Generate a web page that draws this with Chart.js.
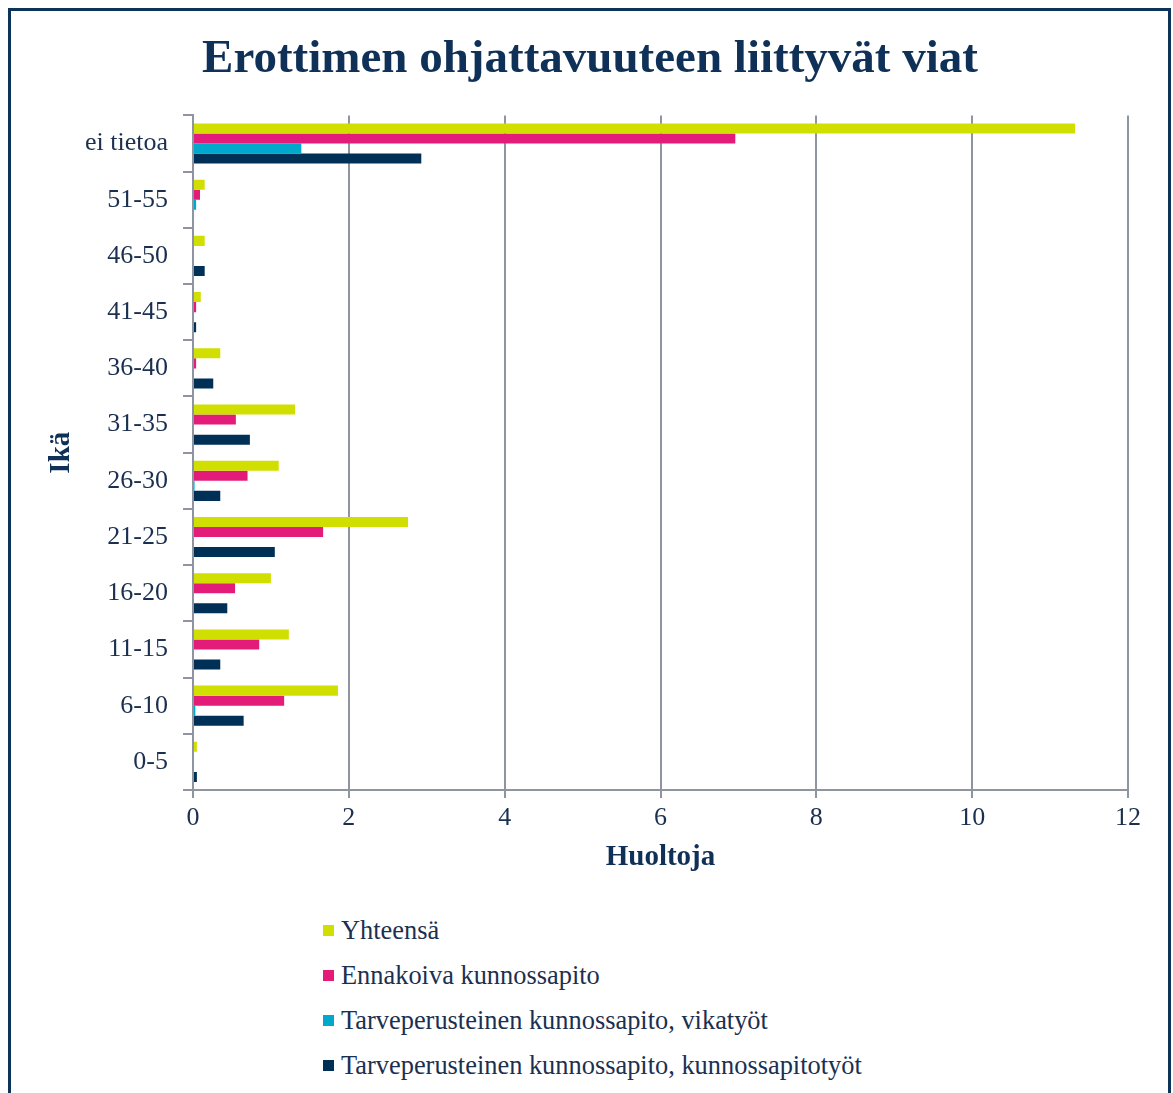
<!DOCTYPE html>
<html>
<head>
<meta charset="utf-8">
<script src="https://cdn.jsdelivr.net/npm/chart.js@4"></script>
<style>
body { margin: 0; background: #fff; }
#frame { position: absolute; left: 8px; top: 8px; width: 1157px; height: 1200px; border: 3px solid #0c3358; }
#wrap { position: absolute; left: 0; top: 0; width: 1173px; height: 890px; }
#legend { position: absolute; left: 323px; top: 908px; font-family: "Liberation Serif"; font-size: 26.4px; color: #1b3050; }
.item { height: 45px; display: flex; align-items: center; }
.box { width: 11px; height: 11px; margin-right: 7px; }
</style>
</head>
<body>
<div id="frame"></div>
<div id="wrap"><canvas id="mycanvas" width="1173" height="890"></canvas></div>
<div id="legend"></div>
<script>
// ikäryhmät ylhäältä alas
var categories = ['ei tietoa', '51-55', '46-50', '41-45', '36-40', '31-35', '26-30', '21-25', '16-20', '11-15', '6-10', '0-5'];
var yhteensa = [11.32, 0.15, 0.15, 0.10, 0.35, 1.31, 1.10, 2.76, 1.00, 1.23, 1.86, 0.05];
var ennakoiva = [6.96, 0.09, 0, 0.04, 0.04, 0.55, 0.70, 1.67, 0.54, 0.85, 1.17, 0];
var vikatyot = [1.39, 0.04, 0, 0, 0, 0, 0.02, 0, 0, 0, 0.03, 0];
var kunnossapitotyot = [2.93, 0, 0.15, 0.04, 0.26, 0.73, 0.35, 1.05, 0.44, 0.35, 0.65, 0.05];
var xMin = 0, xMax = 12, xStep = 2;

var textColor = '#1b3050';
var gridColor = '#8e95a1';
var serif = 'Liberation Serif';

function ds(label, data, color) {
	return {
		label: label,
		data: data,
		backgroundColor: color,
		borderWidth: 0,
		categoryPercentage: 0.714,
		barPercentage: 1
	};
}

var chartdata = {
	labels: categories,
	datasets: [
		ds('Yhteensä', yhteensa, '#d0df00'),
		ds('Ennakoiva kunnossapito', ennakoiva, '#e31b79'),
		ds('Tarveperusteinen kunnossapito, vikatyöt', vikatyot, '#00a8cc'),
		ds('Tarveperusteinen kunnossapito, kunnossapitotyöt', kunnossapitotyot, '#003056')
	]
};

var ctx = document.getElementById('mycanvas');
var barGraph = new Chart(ctx, {
	type: 'bar',
	data: chartdata,
	options: {
		indexAxis: 'y',
		responsive: false,
		animation: false,
		layout: { padding: { left: 52, right: 45, top: 0, bottom: 10 } },
		plugins: {
			legend: { display: false },
			tooltip: { enabled: false },
			title: {
				display: true,
				text: 'Erottimen ohjattavuuteen liittyvät viat',
				color: '#0f3157',
				font: { family: serif, size: 47, weight: 'bold' },
				padding: { top: 32, bottom: 27 }
			}
		},
		scales: {
			x: {
				min: xMin,
				max: xMax,
				ticks: { stepSize: xStep, color: textColor, font: { family: serif, size: 26 }, padding: 5 },
				grid: { color: gridColor, lineWidth: 2, tickLength: 8 },
				border: { color: gridColor, width: 2 },
				title: {
					display: true, text: 'Huoltoja', color: '#0f3157',
					font: { family: serif, size: 29, weight: 'bold' },
					padding: { top: 2, bottom: 5 }
				},
				afterFit: function(s) { s.height = 90; }
			},
			y: {
				ticks: { color: textColor, font: { family: serif, size: 26 }, padding: 15 },
				grid: { drawOnChartArea: false, color: gridColor, lineWidth: 2, tickLength: 10 },
				border: { color: gridColor, width: 2 },
				title: {
					display: true, text: 'Ikä', color: '#0f3157',
					font: { family: serif, size: 29, weight: 'bold' },
					padding: { top: -8, bottom: 2 }
				},
				afterFit: function(s) { s.width = 141; }
			}
		}
	}
});

// legenda allekkain
var legend = document.getElementById('legend');
barGraph.data.datasets.forEach(function(d) {
	var item = document.createElement('div');
	item.className = 'item';
	var box = document.createElement('span');
	box.className = 'box';
	box.style.background = d.backgroundColor;
	var txt = document.createElement('span');
	txt.textContent = d.label;
	item.appendChild(box);
	item.appendChild(txt);
	legend.appendChild(item);
});
</script>
</body>
</html>
